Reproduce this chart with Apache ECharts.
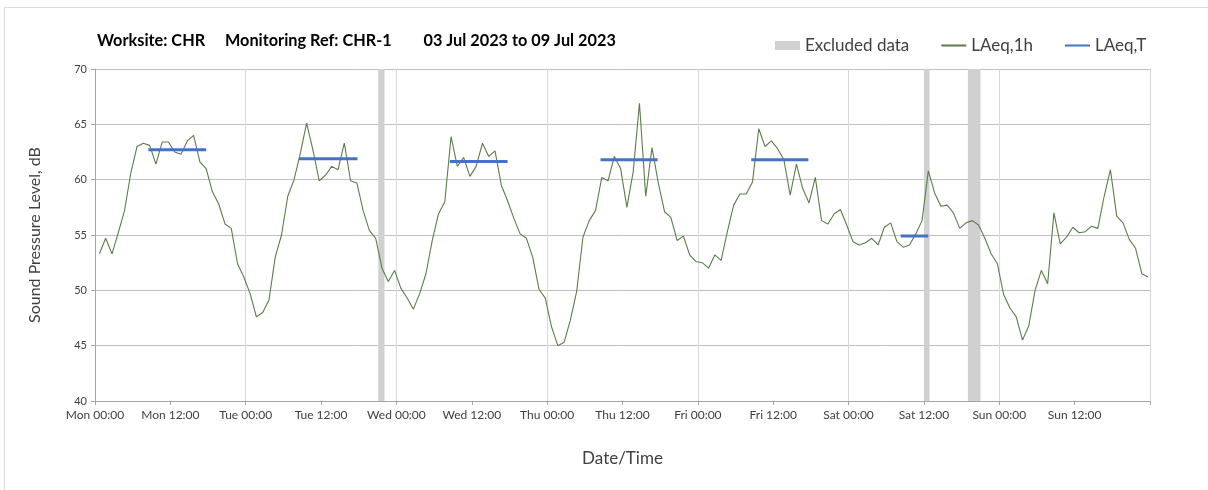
<!DOCTYPE html>
<html>
<head>
<meta charset="utf-8">
<script src="https://cdn.jsdelivr.net/npm/echarts@6/dist/echarts.min.js"></script>
<style>
html, body { margin: 0; padding: 0; background: #fff; }
#main { width: 1208px; height: 490px; }
</style>
</head>
<body>
<div id="main"></div>
<script>
// hourly LAeq,1h values, first point at Mon 00:40
var hourOffset = 0.7;
var laeq1h = [
	53.3, 54.7, 53.3, 55.2, 57.2, 60.6, 63.0, 63.3, 63.1, 61.4, 63.4, 63.4,
	62.5, 62.3, 63.5, 64.0, 61.6, 61.0, 58.9, 57.8, 56.0, 55.6, 52.4, 51.2,
	49.7, 47.6, 48.0, 49.1, 53.0, 55.0, 58.5, 60.0, 62.4, 65.1, 62.7, 59.9,
	60.4, 61.2, 60.9, 63.3, 59.9, 59.7, 57.2, 55.4, 54.7, 52.0, 50.8, 51.8,
	50.2, 49.3, 48.3, 49.7, 51.5, 54.5, 56.9, 58.0, 63.9, 61.2, 62.0, 60.3,
	61.2, 63.3, 62.1, 62.6, 59.5, 58.1, 56.5, 55.1, 54.7, 53.0, 50.1, 49.3,
	46.7, 45.0, 45.3, 47.3, 49.9, 54.8, 56.3, 57.2, 60.2, 59.9, 62.1, 61.0,
	57.5, 60.7, 66.9, 58.5, 62.9, 59.7, 57.1, 56.6, 54.5, 54.9, 53.2, 52.6,
	52.5, 52.0, 53.2, 52.7, 55.3, 57.7, 58.7, 58.7, 59.8, 64.6, 63.0, 63.5,
	62.8, 61.8, 58.6, 61.4, 59.2, 57.9, 60.2, 56.3, 56.0, 56.9, 57.3, 55.9,
	54.4, 54.1, 54.3, 54.7, 54.1, 55.7, 56.1, 54.4, 53.9, 54.1, 55.1, 56.3,
	60.8, 58.8, 57.6, 57.7, 57.0, 55.6, 56.1, 56.3, 55.9, 54.7, 53.3, 52.4,
	49.6, 48.4, 47.6, 45.5, 46.8, 50.0, 51.8, 50.6, 57.0, 54.2, 54.8, 55.7,
	55.2, 55.3, 55.8, 55.6, 58.5, 60.9, 56.7, 56.1, 54.6, 53.8, 51.5, 51.2
];

// LAeq,T periods (hours from Mon 00:00)
var laeqTStart = [8.5, 32.5, 56.5, 80.5, 104.5, 128.3];
var laeqTEnd = [17.7, 41.8, 65.7, 89.6, 113.6, 132.7];
var laeqTValue = [62.7, 61.9, 61.65, 61.8, 61.8, 54.9];

// excluded periods (hours from Mon 00:00)
var excludedStart = [45.1, 132.0, 139.0];
var excludedEnd = [46.1, 132.9, 141.0];

var dayNames = ['Mon', 'Tue', 'Wed', 'Thu', 'Fri', 'Sat', 'Sun'];

var chart = echarts.init(document.getElementById('main'));

var lineData = [];
for (var i = 0; i < laeq1h.length; i++) {
	lineData.push([i + hourOffset, laeq1h[i]]);
}

var excludedAreas = [];
for (var k = 0; k < excludedStart.length; k++) {
	excludedAreas.push([{ xAxis: excludedStart[k] }, { xAxis: excludedEnd[k] }]);
}

var font = 'Lato, "Open Sans", sans-serif';
var green = '#5a7d48';

var series = [
	{
		name: 'Excluded data',
		type: 'bar',
		data: [],
		itemStyle: { color: '#d0d0d0' },
		markArea: {
			silent: true,
			itemStyle: { color: '#d0d0d0' },
			data: excludedAreas
		}
	},
	{
		name: 'LAeq,1h',
		type: 'line',
		symbol: 'none',
		z: 3,
		lineStyle: { color: green, width: 1.1 },
		itemStyle: { color: green },
		data: lineData
	}
];

for (var s = 0; s < laeqTValue.length; s++) {
	series.push({
		name: 'LAeq,T',
		type: 'line',
		symbol: 'none',
		z: 4,
		lineStyle: { color: '#4472c4', width: 3 },
		itemStyle: { color: '#4472c4' },
		data: [[laeqTStart[s], laeqTValue[s]], [laeqTEnd[s], laeqTValue[s]]]
	});
}

var option = {
	animation: false,
	backgroundColor: '#fff',
	graphic: [{
		type: 'rect',
		shape: { x: 4.5, y: 7.5, width: 1220, height: 500 },
		style: { fill: 'none', stroke: '#d9d9d9', lineWidth: 1 },
		silent: true
	}],
	title: {
		text: 'Worksite: CHR     Monitoring Ref: CHR-1        03 Jul 2023 to 09 Jul 2023',
		left: 92,
		top: 28,
		textStyle: { fontFamily: font, fontSize: 16.3, fontWeight: 'bold', color: '#000' }
	},
	legend: {
		left: 770,
		top: 32,
		itemGap: 31,
		itemWidth: 25,
		itemHeight: 9,
		textStyle: { fontFamily: font, fontSize: 17, color: '#404040' },
		data: [
			{ name: 'Excluded data', icon: 'rect' },
			{ name: 'LAeq,1h', itemStyle: { opacity: 0 } },
			{ name: 'LAeq,T', itemStyle: { opacity: 0 } }
		]
	},
	grid: {
		left: 95,
		right: 58,
		top: 69,
		bottom: 89,
		containLabel: false,
		outerBoundsMode: 'none'
	},
	xAxis: [
		{
			type: 'value',
			min: 0,
			max: 168,
			interval: 12,
			name: 'Date/Time',
			nameLocation: 'middle',
			nameGap: 49,
			nameTextStyle: { fontFamily: font, fontSize: 17, color: '#404040' },
			axisLine: { lineStyle: { color: '#a6a6a6' } },
			axisTick: { show: true, length: 4, lineStyle: { color: '#a6a6a6' } },
			splitLine: { show: false },
			axisLabel: {
				fontFamily: font,
				fontSize: 12,
				color: '#404040',
				margin: 8,
				formatter: function (v) {
					if (v >= 168) return '';
					return dayNames[Math.floor(v / 24)] + (v % 24 === 0 ? ' 00:00' : ' 12:00');
				}
			}
		},
		{
			type: 'value',
			min: 0,
			max: 168,
			interval: 24,
			position: 'bottom',
			axisLine: { show: false },
			axisTick: { show: false },
			axisLabel: { show: false },
			splitLine: { show: true, lineStyle: { color: '#d9d9d9', width: 1 } }
		}
	],
	yAxis: {
		type: 'value',
		min: 40,
		max: 70,
		interval: 5,
		name: 'Sound Pressure Level, dB',
		nameLocation: 'middle',
		nameGap: 52,
		nameTextStyle: { fontFamily: font, fontSize: 16, color: '#404040' },
		axisLine: { show: true, lineStyle: { color: '#a6a6a6' } },
		axisTick: { show: true, length: 4, lineStyle: { color: '#a6a6a6' } },
		axisLabel: { fontFamily: font, fontSize: 11, color: '#404040', margin: 8 },
		splitLine: { show: true, lineStyle: { color: '#bfbfbf', width: 1 } }
	},
	series: series
};

chart.setOption(option);
</script>
</body>
</html>
